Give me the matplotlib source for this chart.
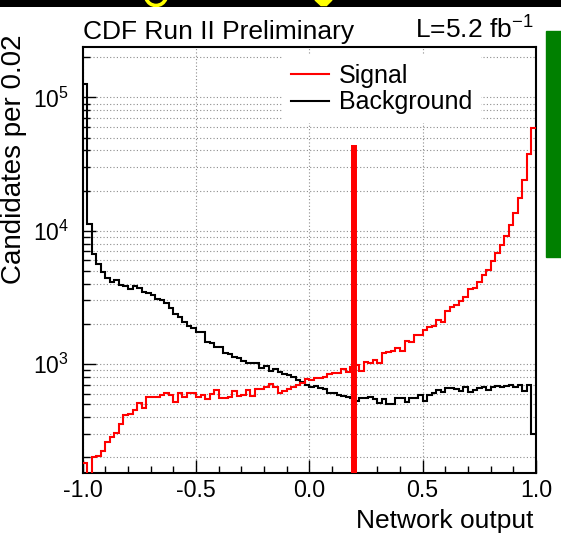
import numpy as np
import matplotlib
matplotlib.use("Agg")
import matplotlib.pyplot as plt
from matplotlib.lines import Line2D
from matplotlib.patches import Rectangle, Arc, Polygon
from matplotlib.ticker import LogLocator, NullFormatter, MultipleLocator, FormatStrFormatter

W, H = 561, 536

# histogram binning: 100 bins of 0.02 on [-1, 1]
x_lo, x_hi, n_bins = -1.0, 1.0, 100

background = [
    126000, 11200, 6680, 5620, 4920, 4390, 4140, 4270, 3920, 3850,
    3630, 3850, 3700, 3470, 3430, 3290, 3090, 3020, 2850, 2640,
    2360, 2260, 2080, 1930, 1850, 1750, 1730, 1470, 1440, 1350,
    1330, 1200, 1190, 1120, 1100, 1060, 1010, 1020, 1020, 929,
    966, 891, 912, 875, 841, 827, 794, 759, 736, 696,
    668, 684, 657, 646, 610, 603, 585, 578, 569, 552,
    530, 552, 552, 569, 543, 513, 543, 501, 501, 552,
    552, 521, 552, 552, 585, 530, 580, 610, 640, 615,
    660, 665, 650, 630, 670, 615, 640, 660, 670, 640,
    675, 680, 670, 680, 700, 672, 690, 630, 690, 300,
]

signal = [
    180, 100, 200, 204, 224, 261, 285, 302, 355, 414,
    419, 452, 507, 465, 562, 569, 569, 585, 603, 585,
    521, 603, 569, 610, 603, 569, 585, 543, 596, 638,
    552, 559, 569, 631, 575, 585, 638, 578, 646, 646,
    668, 708, 668, 610, 631, 646, 668, 696, 724, 768,
    755, 780, 780, 803, 841, 861, 851, 912, 875, 950,
    983, 891, 1040, 1023, 1071, 1023, 1216, 1237, 1259, 1311,
    1259, 1496, 1469, 1649, 1649, 1810, 1880, 1928, 2138, 2075,
    2512, 2692, 2771, 2969, 3199, 3634, 3698, 4144, 4651, 5070,
    5957, 6838, 7814, 9124, 10970, 13640, 17490, 23990, 37580, 58640,
]

cut_x = 0.195
cut_top = 4.4e4
y_min, y_max = 152, 2.39e5

plt.rcParams.update({
    "font.family": "Liberation Sans",
    "mathtext.fontset": "custom",
    "mathtext.rm": "Liberation Sans",
    "mathtext.it": "Liberation Sans:italic",
    "mathtext.bf": "Liberation Sans:bold",
    "axes.unicode_minus": False,
})

fig = plt.figure(figsize=(W / 100, H / 100), dpi=100)
fig.patch.set_facecolor("white")

ax = fig.add_axes([82.7 / W, 1 - 473 / H, (536 - 82.7) / W, (473 - 47) / H])
edges = np.linspace(x_lo, x_hi, n_bins + 1)
ax.stairs(background, edges, color="black", lw=1.5, baseline=None, zorder=3)
ax.stairs(signal, edges, color="#ff0000", lw=1.5, baseline=None, zorder=3)
ax.plot([cut_x, cut_x], [y_min, cut_top], color="#ff0000", lw=4.3,
        solid_capstyle="butt", zorder=4)

ax.set_yscale("log")
ax.set_xlim(x_lo, x_hi)
ax.set_ylim(y_min, y_max)

ax.xaxis.set_major_locator(MultipleLocator(0.5))
ax.xaxis.set_minor_locator(MultipleLocator(0.1))
ax.xaxis.set_major_formatter(FormatStrFormatter("%.1f"))
ax.yaxis.set_major_locator(LogLocator(base=10, numticks=10))
ax.yaxis.set_minor_locator(LogLocator(base=10, subs=np.arange(2, 10), numticks=50))
ax.yaxis.set_minor_formatter(NullFormatter())

ax.tick_params(which="both", direction="in", top=False, right=False, width=1.0)
ax.tick_params(which="major", length=9.4)
ax.tick_params(which="minor", length=5)
ax.tick_params(axis="x", labelsize=16.7, pad=4)
ax.tick_params(axis="y", labelsize=16.5, pad=10)
for s in ax.spines.values():
    s.set_linewidth(1.5)

grid_kw = dict(ls=(0, (1, 2)), color="#8c8c8c", lw=0.8)
ax.grid(axis="y", which="both", **grid_kw)
ax.grid(axis="x", which="major", **grid_kw)

handles = [Line2D([0], [0], color="#ff0000", lw=1.5, label="Signal"),
           Line2D([0], [0], color="black", lw=1.5, label="Background")]
leg = ax.legend(handles=handles, loc="upper left", bbox_to_anchor=(0.4397, 0.981),
                fontsize=18, frameon=True, fancybox=False, edgecolor="none",
                facecolor="white", framealpha=1, borderpad=0.35, borderaxespad=0,
                handlelength=1.52, handletextpad=0.4, labelspacing=0.1)
leg.set_zorder(6)

fig.text(83 / W, 1 - 39 / H, "CDF Run II Preliminary", fontsize=19, va="baseline")
fig.text(533 / W, 1 - 39 / H, "L=5.2 fb$^{-1}$", fontsize=19, va="baseline", ha="right")
fig.text(533 / W, 1 - 528 / H, "Network output", fontsize=19, va="baseline", ha="right")
fig.text(1 / W, 1 - 34 / H, "Candidates per 0.02", fontsize=20, rotation=90,
         ha="left", va="top")

# green marker bar on the right edge
fig.patches.append(Rectangle((546 / W, 1 - 257 / H), 15 / W, 226 / H,
                             transform=fig.transFigure, color="#008000"))

# black banner strip across the top; only the feet of its yellow lettering show
band = fig.add_axes([0, 1 - 7 / H, 1, 7 / H])
band.set_facecolor("black")
band.set_xticks([])
band.set_yticks([])
for s in band.spines.values():
    s.set_visible(False)
band.set_xlim(0, W)
band.set_ylim(0, 7)
band.add_patch(Arc((156, 12), 21, 21, theta1=200, theta2=340,
                   color="#ffff00", lw=2.6, clip_on=True))
band.add_patch(Polygon([(315, 7), (332, 7), (326.5, 1.5), (321, 1.5)],
                       closed=True, color="#ffff00", clip_on=True))

fig.savefig("out.png", dpi=100)
